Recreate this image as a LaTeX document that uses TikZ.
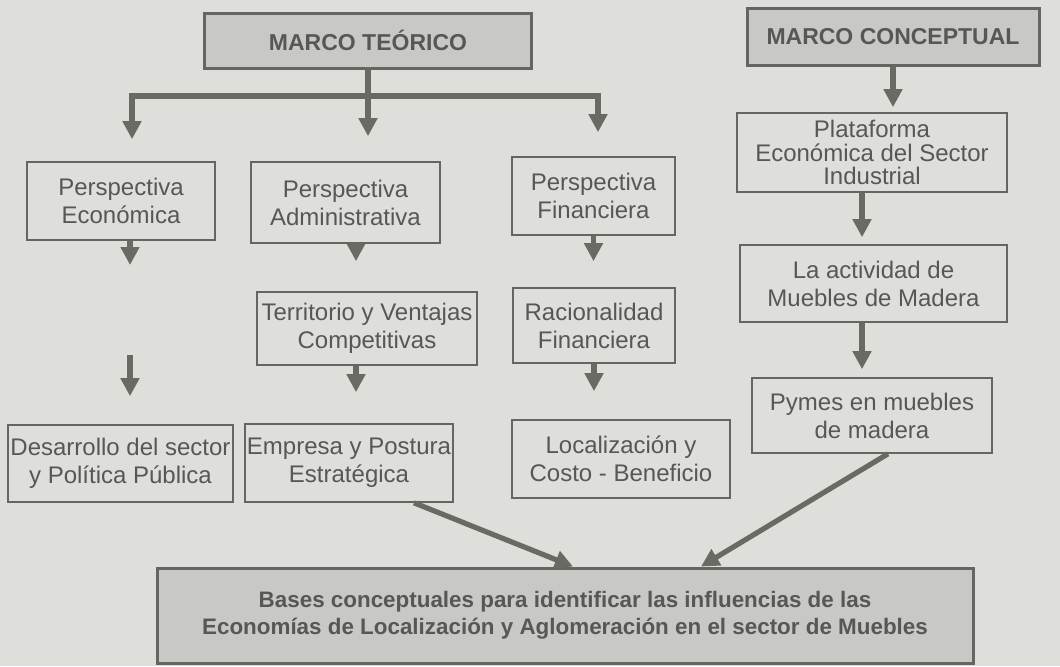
\documentclass[tikz,border=0pt]{standalone}
\usepackage{fontspec}
\setmainfont{Liberation Sans}
\usetikzlibrary{arrows.meta,calc}
\definecolor{paper}{RGB}{222,222,218}
\definecolor{headfill}{RGB}{200,201,196}
\definecolor{edge}{RGB}{100,102,97}
\definecolor{ink}{RGB}{86,88,84}
\definecolor{arrowc}{RGB}{104,107,99}
\tikzset{
  marco/.style={draw=edge, line width=1.5pt, fill=headfill, inner sep=0pt,
    font=\fontsize{11.5}{14}\selectfont\bfseries, text=ink, align=center},
  caja/.style={draw=edge, line width=0.8pt, inner sep=0pt,
    font=\fontsize{12}{14}\selectfont, text=ink, align=center},
  trunk/.style={draw=arrowc, line width=2.6pt, line cap=rect},
  flow/.style={-{Triangle[length=9pt, width=9pt]}, draw=arrowc, line width=2.6pt},
}

\begin{document}
\begin{tikzpicture}[x=0.5pt, y=-0.5pt]
\fill[paper] (0,0) rectangle (1060,666);
\useasboundingbox (0,0) rectangle (1060,666);

% The two frames at the top.
\node[marco, minimum width=163.5pt, minimum height=27.5pt] (teorico) at (368,40.5) {MARCO TEÓRICO};
\node[marco, minimum width=146pt, minimum height=28.5pt] (conceptual) at (893,36.5) {MARCO CONCEPTUAL};

% Theoretical side: three perspectives and what follows from each.
\node[caja, minimum width=94pt, minimum height=39pt] (econ) at (121,201) {Perspectiva\\Económica};
\node[caja, minimum width=94.5pt, minimum height=40.5pt] (admin) at (345.5,202.5) {Perspectiva\\Administrativa};
\node[caja, minimum width=81.5pt, minimum height=39pt] (finan) at (593.5,196) {Perspectiva\\Financiera};
\node[caja, minimum width=110pt, minimum height=36.5pt] (territorio) at (367,328.5) {Territorio y Ventajas\\Competitivas};
\node[caja, minimum width=81pt, minimum height=37.5pt] (racional) at (594,325.5) {Racionalidad\\Financiera};
\node[caja, minimum width=112.5pt, minimum height=38.5pt] (desarrollo) at (120.5,463.5) {Desarrollo del sector\\y Política Pública};
\node[caja, minimum width=104pt, minimum height=39pt] (empresa) at (349,463) {Empresa y Postura\\Estratégica};
\node[caja, minimum width=109pt, minimum height=39pt] (local) at (621,459) {Localización y\\Costo - Beneficio};

% Conceptual side.
\node[caja, minimum width=135pt, minimum height=39.5pt, font=\fontsize{12}{11.8}\selectfont]
  (plataforma) at (872,152.5) {Plataforma\\Económica del Sector\\Industrial};
\node[caja, minimum width=133.5pt, minimum height=38.5pt] (actividad) at (873.5,283.5) {La actividad de\\Muebles de Madera};
\node[caja, minimum width=120pt, minimum height=37.5pt] (pymes) at (872,415.5) {Pymes en muebles\\de madera};

\node[marco, minimum width=408pt, minimum height=47.5pt,
  font=\fontsize{11.2}{13.5}\selectfont\bfseries] (bases) at (565,615.5)
  {Bases conceptuales para identificar las influencias de las\\Economías de Localización y Aglomeración en el sector de Muebles};

% Branching under the theoretical frame.
\coordinate (hub) at (368,96);
\coordinate (barL) at (132,96);
\coordinate (barR) at (598,96);
\draw[trunk] (teorico.south) -- (hub);
\draw[trunk] (barL) -- (barR);
\draw[flow, shorten >=11pt] (barL) -- (barL |- econ.north);
\draw[flow, shorten >=12.5pt] (hub) -- (hub |- admin.north);
\draw[flow, shorten >=12pt] (barR) -- (barR |- finan.north);

% Columns.
\coordinate (econ_out) at (130,265);
\coordinate (desa_in) at (130,355);
\coordinate (col2) at (356,0);
\coordinate (col4) at (862,0);
\draw[flow] (econ.south -| econ_out) -- (econ_out);
\draw[flow, shorten >=14pt] (desa_in) -- (desa_in |- desarrollo.north);
\draw[flow, shorten >=15pt] (admin.south -| col2) -- (territorio.north -| col2);
\draw[flow, shorten >=15.5pt] (territorio.south -| col2) -- (empresa.north -| col2);
\draw[flow, shorten >=13pt] (finan.south) -- (finan.south |- racional.north);
\draw[flow, shorten >=14pt] (racional.south) -- (racional.south |- local.north);
\draw[flow, shorten >=2.5pt] (conceptual.south) -- (conceptual.south |- plataforma.north);
\draw[flow, shorten >=3.5pt] (plataforma.south -| col4) -- (actividad.north -| col4);
\draw[flow, shorten >=4pt] (actividad.south -| col4) -- (pymes.north -| col4);

% Both sides meet in the bases.
\draw[flow] ($(empresa.south)!0.62!(empresa.south east)$) -- ([xshift=4pt]bases.north);
\draw[flow] ([xshift=8pt]pymes.south) -- ([xshift=68pt]bases.north);

\end{tikzpicture}
\end{document}
